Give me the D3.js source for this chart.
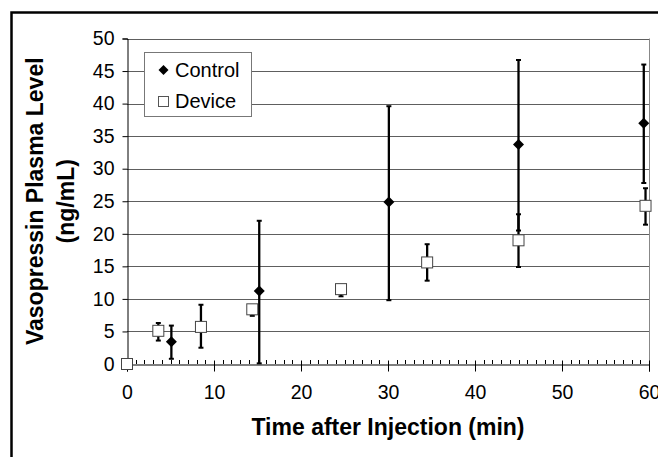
<!DOCTYPE html>
<html>
<head>
<meta charset="utf-8">
<script src="https://cdn.jsdelivr.net/npm/d3@7"></script>
<style>
  body { margin: 0; background: #fff; }
  svg text { font-family: Arial, "Liberation Sans", sans-serif; fill: #000; }
</style>
</head>
<body>
<svg id="svg" width="658" height="457"></svg>
<script>
// control group (filled diamonds)
var controlTime = [5.1, 15.2, 30.1, 45, 59.4]
var controlMean = [3.4, 11.2, 24.9, 33.7, 37.0]
var controlLow  = [0.8, 0.1, 9.8, 20.5, 27.8]
var controlHigh = [5.9, 22.0, 39.6, 46.7, 46.0]

// device group (open squares)
var deviceTime = [0, 3.6, 8.5, 14.4, 24.6, 34.5, 45, 59.6]
var deviceMean = [0, 5.1, 5.7, 8.4, 11.5, 15.6, 19.0, 24.3]
var deviceLow  = [0, 3.6, 2.5, 7.4, 10.4, 12.8, 14.9, 21.4]
var deviceHigh = [0, 6.3, 9.1, 8.4, 11.5, 18.4, 23.0, 27.0]

var xTicks = [0, 10, 20, 30, 40, 50, 60]
var yTicks = [0, 5, 10, 15, 20, 25, 30, 35, 40, 45, 50]
var legendLabels = ["Control", "Device"]

var svg = d3.select("svg")

var x = d3.scaleLinear().domain([0, 60]).range([127, 649])
var y = d3.scaleLinear().domain([0, 50]).range([364, 38.5])

function rows(t, m, lo, hi) {
  return t.map(function(d, i) { return {t: d, m: m[i], lo: lo[i], hi: hi[i]} })
}
var control = rows(controlTime, controlMean, controlLow, controlHigh)
var device = rows(deviceTime, deviceMean, deviceLow, deviceHigh)

// outer chart frame
svg.append("rect")
  .attr("x", 11.5).attr("y", 12.5)
  .attr("width", 700).attr("height", 500)
  .attr("fill", "none").attr("stroke", "#000").attr("stroke-width", 2.5)

// gridlines
svg.append("g").selectAll("line")
  .data(yTicks.filter(function(d) { return d > 0 }))
  .enter().append("line")
  .attr("x1", x(0)).attr("x2", x(60))
  .attr("y1", function(d) { return Math.round(y(d)) + 0.5 })
  .attr("y2", function(d) { return Math.round(y(d)) + 0.5 })
  .attr("stroke", "#5e5e5e").attr("stroke-width", 1)

// plot area border (right)
svg.append("line")
  .attr("x1", x(60) + 0.5).attr("x2", x(60) + 0.5)
  .attr("y1", y(50)).attr("y2", y(0))
  .attr("stroke", "#888")

// y axis
var yAxis = d3.axisLeft(y).tickValues(yTicks).tickSize(5).tickPadding(8)
var gy = svg.append("g").attr("transform", "translate(" + (x(0) + 0.5) + ",0)").call(yAxis)
gy.select(".domain").attr("stroke", "#000")
gy.selectAll("text").attr("font-size", 19.5).attr("font-family", "Arial, 'Liberation Sans'")

// x axis: minor ticks every minute inside, major every 10
svg.append("g").selectAll("line")
  .data(d3.range(1, 60).filter(function(d) { return d % 10 !== 0 }))
  .enter().append("line")
  .attr("x1", function(d) { return Math.round(x(d)) + 0.5 })
  .attr("x2", function(d) { return Math.round(x(d)) + 0.5 })
  .attr("y1", y(0) - 4).attr("y2", y(0))
  .attr("stroke", "#000")

var xAxis = d3.axisBottom(x).tickValues(xTicks).tickSize(7).tickPadding(14)
var gx = svg.append("g").attr("transform", "translate(0," + (y(0) + 0.5) + ")").call(xAxis)
gx.select(".domain").attr("stroke", "#000")
gx.selectAll(".tick line").attr("y1", -4)
gx.selectAll("text").attr("font-size", 19.5).attr("font-family", "Arial, 'Liberation Sans'")

// axis titles
svg.append("text")
  .attr("x", (x(0) + x(60)) / 2).attr("y", 435)
  .attr("text-anchor", "middle")
  .attr("font-size", 23).attr("font-weight", "bold")
  .text("Time after Injection (min)")

var yt = svg.append("text")
  .attr("transform", "translate(0," + (y(25)) + ") rotate(-90)")
  .attr("text-anchor", "middle")
  .attr("font-size", 23).attr("font-weight", "bold")
yt.append("tspan").attr("x", 0).attr("y", 43).text("Vasopressin Plasma Level")
yt.append("tspan").attr("x", 0).attr("y", 74).text("(ng/mL)")

// error bars
function errorBars(data) {
  var g = svg.append("g")
  g.selectAll("line.bar")
    .data(data.filter(function(d) { return d.hi > d.lo }))
    .enter().append("line")
    .attr("class", "bar")
    .attr("x1", function(d) { return x(d.t) }).attr("x2", function(d) { return x(d.t) })
    .attr("y1", function(d) { return y(d.hi) }).attr("y2", function(d) { return y(d.lo) })
    .attr("stroke", "#000").attr("stroke-width", 2.3)
  var caps = []
  data.forEach(function(d) {
    if (d.hi > d.m) caps.push({t: d.t, v: d.hi})
    if (d.lo < d.m) caps.push({t: d.t, v: d.lo})
  })
  g.selectAll("line.cap")
    .data(caps)
    .enter().append("line")
    .attr("class", "cap")
    .attr("x1", function(d) { return x(d.t) - 2.5 }).attr("x2", function(d) { return x(d.t) + 2.5 })
    .attr("y1", function(d) { return y(d.v) }).attr("y2", function(d) { return y(d.v) })
    .attr("stroke", "#000").attr("stroke-width", 2)
}

var diamond = "M0,-5.5L5.5,0L0,5.5L-5.5,0Z"

errorBars(device)
svg.append("g").selectAll("rect")
  .data(device)
  .enter().append("rect")
  .attr("x", function(d) { return x(d.t) - 5.5 })
  .attr("y", function(d) { return y(d.m) - 5.5 })
  .attr("width", 11).attr("height", 11)
  .attr("fill", "#fff").attr("stroke", "#444").attr("stroke-width", 1)

errorBars(control)
svg.append("g").selectAll("path")
  .data(control)
  .enter().append("path")
  .attr("d", diamond)
  .attr("transform", function(d) { return "translate(" + x(d.t) + "," + y(d.m) + ")" })
  .attr("fill", "#000")

// legend
var legend = svg.append("g")
legend.append("rect")
  .attr("x", 144.5).attr("y", 52.5).attr("width", 107).attr("height", 64)
  .attr("fill", "#fff").attr("stroke", "#777")
legend.append("path").attr("d", "M0,-5L5,0L0,5L-5,0Z")
  .attr("transform", "translate(163.5,70)").attr("fill", "#000")
legend.append("rect")
  .attr("x", 158.5).attr("y", 96.5).attr("width", 10).attr("height", 10)
  .attr("fill", "#fff").attr("stroke", "#555")
legend.selectAll("text.lab")
  .data(legendLabels)
  .enter().append("text")
  .attr("class", "lab")
  .attr("x", 175)
  .attr("y", function(d, i) { return 77 + i * 30.5 })
  .attr("font-size", 20)
  .text(function(d) { return d })
</script>
</body>
</html>
